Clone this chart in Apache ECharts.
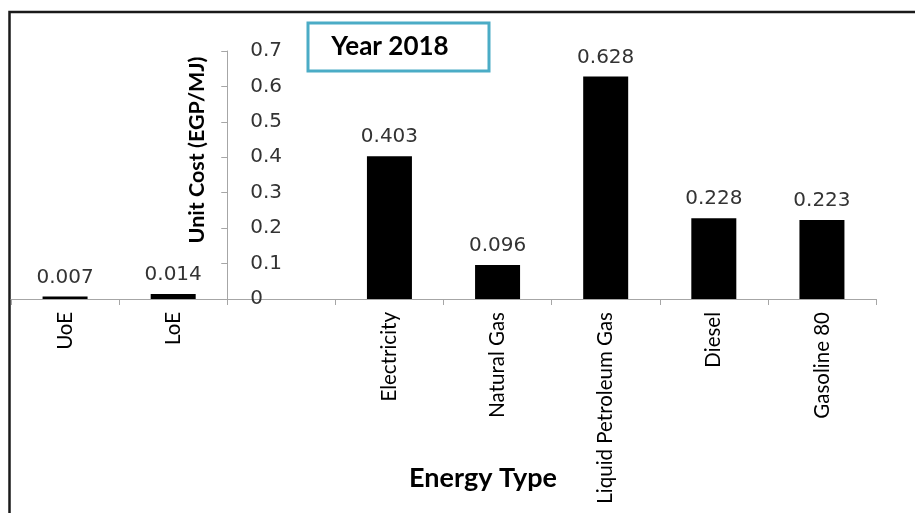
<!DOCTYPE html>
<html>
<head>
<meta charset="utf-8">
<title>Unit Cost by Energy Type, 2018</title>
<script src="https://cdn.jsdelivr.net/npm/echarts@6/dist/echarts.min.js"></script>
<style>
  html, body { margin: 0; padding: 0; background: #fff; }
  #chart { width: 915px; height: 513px; }
</style>
</head>
<body>
<div id="chart"></div>
<script>
// Energy types; the empty slot holds the value axis between LoE and Electricity
const categories = ['UoE', 'LoE', '', 'Electricity', 'Natural Gas', 'Liquid Petroleum Gas', 'Diesel', 'Gasoline 80'];
// Unit cost in EGP per MJ
const unitCost = [0.007, 0.014, null, 0.403, 0.096, 0.628, 0.228, 0.223];
const yTicks = { min: 0, max: 0.7, interval: 0.1 };

const chart = echarts.init(document.getElementById('chart'));

const gridLeft = 11, gridRight = 39;
const plotWidth = 915 - gridLeft - gridRight;
const axisSlot = 2; // value axis sits at the boundary before this category
const axisOffset = -(plotWidth / categories.length) * axisSlot;

chart.setOption({
  animation: false,
  backgroundColor: '#ffffff',
  grid: { left: gridLeft, right: gridRight, top: 51, bottom: 214, outerBoundsMode: 'none', containLabel: false },
  xAxis: {
    type: 'category',
    data: categories,
    boundaryGap: true,
    axisLine: { lineStyle: { color: '#a6a6a6', width: 1 } },
    axisTick: { show: true, alignWithLabel: false, length: 6, lineStyle: { color: '#a6a6a6' } },
    axisLabel: { rotate: 90, margin: 13, interval: 0, fontFamily: 'Lato', fontSize: 20.5, color: '#000' },
    splitLine: { show: false }
  },
  yAxis: {
    type: 'value',
    position: 'left',
    offset: axisOffset,
    min: yTicks.min,
    max: yTicks.max,
    interval: yTicks.interval,
    axisLine: { show: true, lineStyle: { color: '#a6a6a6', width: 1 } },
    axisTick: { show: true, inside: false, length: 6, lineStyle: { color: '#a6a6a6' } },
    axisLabel: {
      inside: true,
      margin: 23,
      fontFamily: 'DejaVu Sans',
      fontSize: 20,
      color: '#333',
      formatter: v => String(Math.round(v * 10) / 10)
    },
    splitLine: { show: false }
  },
  series: [{
    type: 'bar',
    data: unitCost,
    barWidth: 45,
    itemStyle: { color: '#000' },
    label: {
      show: true,
      position: 'top',
      distance: 9,
      fontFamily: 'DejaVu Sans',
      fontSize: 20,
      color: '#333',
      formatter: p => p.value.toFixed(3)
    }
  }],
  graphic: [
    {
      type: 'rect',
      silent: true,
      shape: { x: 9.5, y: 12, width: 1000, height: 1000 },
      style: { fill: 'none', stroke: '#1a1a1a', lineWidth: 2.5 }
    },
    {
      // value axis title
      type: 'text',
      silent: true,
      x: 197, y: 150,
      rotation: Math.PI / 2,
      style: {
        text: 'Unit Cost (EGP/MJ)',
        align: 'center',
        verticalAlign: 'middle',
        fontFamily: 'Lato',
        fontWeight: 'bold',
        fontSize: 21.5,
        fill: '#000'
      }
    },
    {
      // category axis title
      type: 'text',
      silent: true,
      style: {
        x: 483, y: 478,
        text: 'Energy Type',
        align: 'center',
        verticalAlign: 'middle',
        fontFamily: 'Lato',
        fontWeight: 'bold',
        fontSize: 27,
        fill: '#000'
      }
    },
    {
      type: 'rect',
      silent: true,
      shape: { x: 308, y: 23, width: 181, height: 48 },
      style: { fill: '#fff', stroke: '#4bacc6', lineWidth: 3 }
    },
    {
      type: 'text',
      silent: true,
      style: {
        x: 390, y: 47,
        text: 'Year 2018',
        align: 'center',
        verticalAlign: 'middle',
        fontFamily: 'Lato',
        fontWeight: 'bold',
        fontSize: 26,
        fill: '#000'
      }
    }
  ]
});
</script>
</body>
</html>
